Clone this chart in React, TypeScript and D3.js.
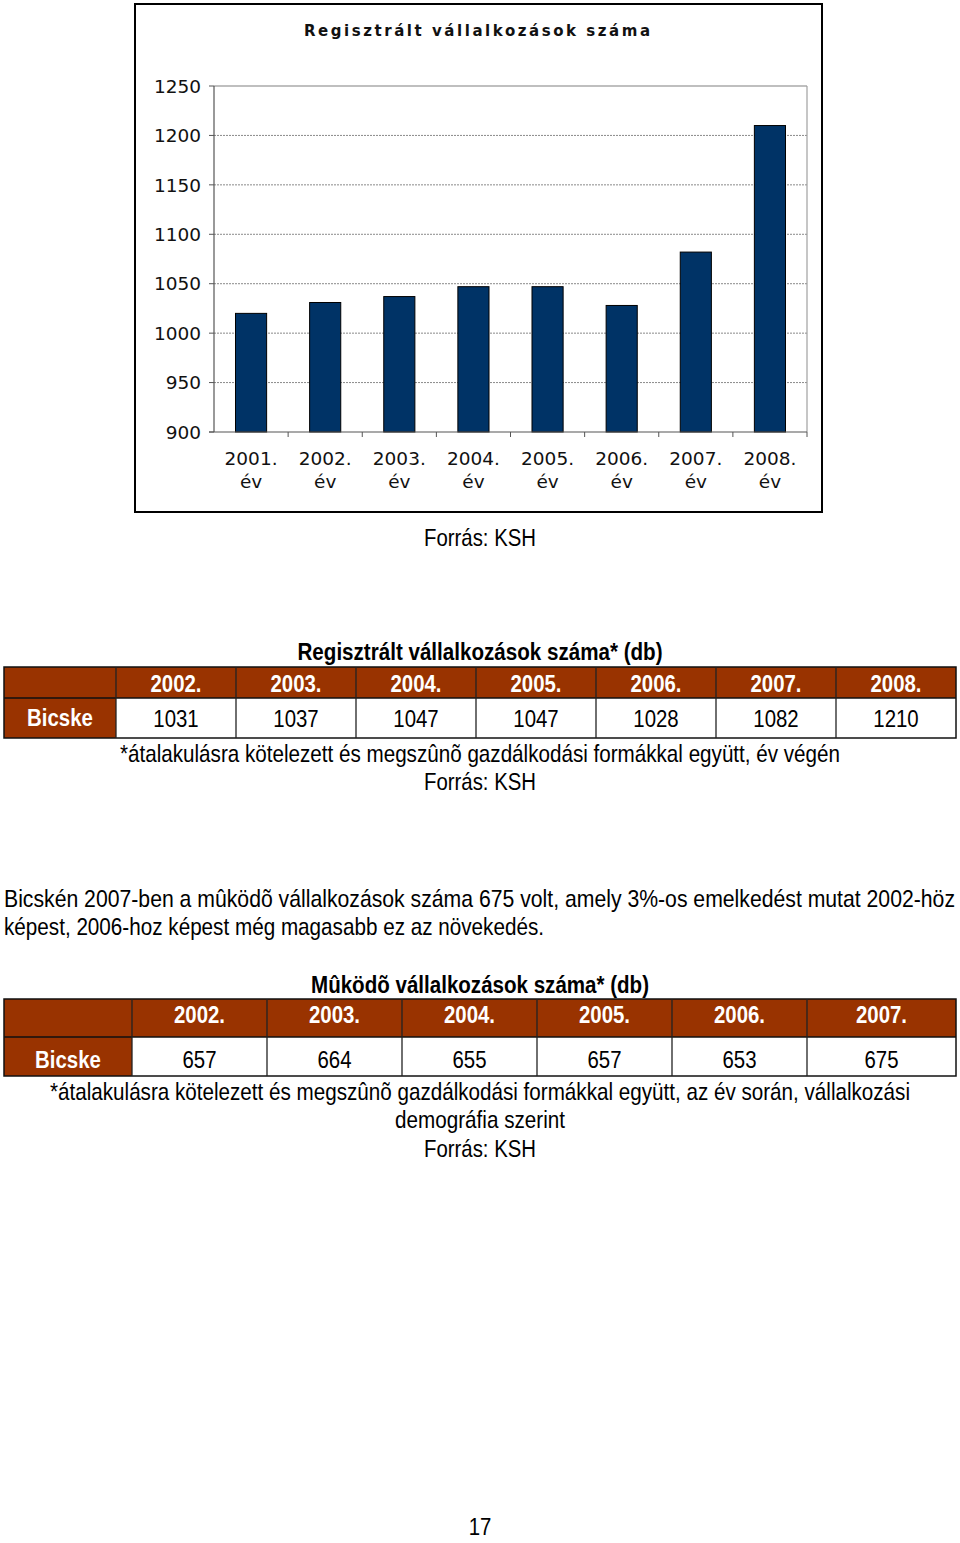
import React from "react";
import * as d3 from "d3";

// ---------- data ----------
const chartTitle = "Regisztrált vállalkozások száma";
const chartYears = ["2001.", "2002.", "2003.", "2004.", "2005.", "2006.", "2007.", "2008."];
const registered = [1020, 1031, 1037, 1047, 1047, 1028, 1082, 1210];
const yTicks = [900, 950, 1000, 1050, 1100, 1150, 1200, 1250];

const table1Title = "Regisztrált vállalkozások száma* (db)";
const table1Years = ["2002.", "2003.", "2004.", "2005.", "2006.", "2007.", "2008."];
const table1Values = [1031, 1037, 1047, 1047, 1028, 1082, 1210];
const table1Note = "*átalakulásra kötelezett és megszûnõ gazdálkodási formákkal együtt, év végén";

const paragraph = [
  "Bicskén 2007-ben a mûködõ vállalkozások száma 675 volt, amely 3%-os emelkedést mutat 2002-höz",
  "képest, 2006-hoz képest még magasabb ez az növekedés.",
];

const table2Title = "Mûködõ vállalkozások száma* (db)";
const table2Years = ["2002.", "2003.", "2004.", "2005.", "2006.", "2007."];
const table2Values = [657, 664, 655, 657, 653, 675];
const table2Note = [
  "*átalakulásra kötelezett és megszûnõ gazdálkodási formákkal együtt, az év során, vállalkozási",
  "demográfia szerint",
];

const rowLabel = "Bicske";
const source = "Forrás: KSH";
const pageNumber = "17";

// ---------- styles ----------
const SANS = "'Liberation Sans', Arial, Helvetica, sans-serif";
const VERD = "'DejaVu Sans', Verdana, sans-serif";
const BROWN = "#993300";
const NAVY = "#003366";
const SX = 0.85; // horizontal condensation for the narrow document font
const FS = 24;

function NText({
  x,
  y,
  children,
  anchor = "middle",
  bold = false,
  fill = "#000",
  width,
  adjust = "spacingAndGlyphs",
}: {
  x: number;
  y: number;
  children: React.ReactNode;
  anchor?: "start" | "middle" | "end";
  bold?: boolean;
  fill?: string;
  width?: number;
  adjust?: "spacing" | "spacingAndGlyphs";
}) {
  const extra: any = {};
  if (width) {
    extra.textLength = width / SX;
    extra.lengthAdjust = adjust;
  }
  return (
    <text
      transform={`translate(${x},${y}) scale(${SX},1)`}
      textAnchor={anchor}
      fontFamily={SANS}
      fontSize={FS}
      fontWeight={bold ? "bold" : "normal"}
      fill={fill}
      {...extra}
    >
      {children}
    </text>
  );
}

function Chart() {
  const box = { x: 135, y: 4, w: 687, h: 508 };
  const plot = { left: 214, right: 807, top: 86, bottom: 432 };
  const x = d3.scaleBand<string>().domain(chartYears).range([plot.left, plot.right]);
  const y = d3.scaleLinear().domain([900, 1250]).range([plot.bottom, plot.top]);
  const barW = x.bandwidth() * 0.42;
  return (
    <g>
      <rect x={box.x} y={box.y} width={box.w} height={box.h} fill="#fff" stroke="#000" strokeWidth={2} />
      <text
        x={477}
        y={36}
        textAnchor="middle"
        fontFamily={VERD}
        fontWeight="bold"
        fontSize={15}
        textLength={346}
        lengthAdjust="spacing"
        fill="#111"
      >
        {chartTitle}
      </text>
      {yTicks.slice(1, -1).map((t) => (
        <line key={t} x1={plot.left} x2={plot.right} y1={y(t)} y2={y(t)} stroke="#8a8a8a" strokeWidth={1} strokeDasharray="2,1" />
      ))}
      <line x1={plot.left} x2={plot.right} y1={y(1250)} y2={y(1250)} stroke="#808080" strokeWidth={1.2} />
      <line x1={plot.right} x2={plot.right} y1={plot.top} y2={plot.bottom} stroke="#a0a0a0" strokeWidth={1.2} />
      {registered.map((v, i) => {
        const cx = (x(chartYears[i]) as number) + x.bandwidth() / 2;
        return (
          <rect key={i} x={cx - barW / 2} y={y(v)} width={barW} height={plot.bottom - y(v)} fill={NAVY} stroke="#000" strokeWidth={1} />
        );
      })}
      <line x1={plot.left} x2={plot.left} y1={plot.top} y2={plot.bottom} stroke="#555" strokeWidth={1.2} />
      <line x1={plot.left - 5} x2={plot.right} y1={plot.bottom} y2={plot.bottom} stroke="#555" strokeWidth={1.2} />
      {yTicks.map((t) => (
        <g key={t}>
          <line x1={plot.left - 5} x2={plot.left} y1={y(t)} y2={y(t)} stroke="#555" strokeWidth={1} />
          <text x={201} y={y(t)} dy="0.36em" textAnchor="end" fontFamily={VERD} fontSize={18.5} fill="#111">
            {t}
          </text>
        </g>
      ))}
      {chartYears.map((c) => {
        const x0 = x(c) as number;
        const cx = x0 + x.bandwidth() / 2;
        return (
          <g key={c}>
            <line x1={x0 + x.bandwidth()} x2={x0 + x.bandwidth()} y1={plot.bottom} y2={plot.bottom + 5} stroke="#555" strokeWidth={1} />
            <text x={cx} y={465} textAnchor="middle" fontFamily={VERD} fontSize={18.5} fill="#111">
              {c}
            </text>
            <text x={cx} y={488} textAnchor="middle" fontFamily={VERD} fontSize={18.5} fill="#111">
              év
            </text>
          </g>
        );
      })}
    </g>
  );
}

function Table({
  years,
  values,
  edges,
  top,
  mid,
  bottom,
  headBase,
  dataBase,
  labelBase,
}: {
  years: string[];
  values: number[];
  edges: number[];
  top: number;
  mid: number;
  bottom: number;
  headBase: number;
  dataBase: number;
  labelBase: number;
}) {
  const left = edges[0];
  const right = edges[edges.length - 1];
  return (
    <g>
      <rect x={left} y={top} width={right - left} height={mid - top} fill={BROWN} />
      <rect x={left} y={mid} width={edges[1] - left} height={bottom - mid} fill={BROWN} />
      <rect x={edges[1]} y={mid} width={right - edges[1]} height={bottom - mid} fill="#fff" />
      <rect x={left} y={top} width={right - left} height={bottom - top} fill="none" stroke="#111" strokeWidth={1.5} />
      <line x1={left} x2={right} y1={mid} y2={mid} stroke="#111" strokeWidth={1.3} />
      {edges.slice(1, -1).map((e, i) => (
        <line key={i} x1={e} x2={e} y1={top} y2={bottom} stroke="#222" strokeWidth={1.3} />
      ))}
      {years.map((yr, i) => {
        const cx = (edges[i + 1] + edges[i + 2]) / 2;
        return (
          <g key={yr}>
            <NText x={cx} y={headBase} bold fill="#fff">
              {yr}
            </NText>
            <NText x={cx} y={dataBase}>{values[i]}</NText>
          </g>
        );
      })}
      <NText x={(edges[0] + edges[1]) / 2} y={labelBase} bold fill="#fff">
        {rowLabel}
      </NText>
    </g>
  );
}

export default function App() {
  const W = 960;
  const H = 1543;
  const t1 = d3.scaleBand<string>().domain(table1Years).range([116, 956]);
  const t1Edges = [4, ...table1Years.map((y) => t1(y) as number), 956];
  const t2 = d3.scaleBand<string>().domain(table2Years).range([132, 807 + 135]);
  const t2Edges = [4, ...table2Years.map((y) => t2(y) as number), 956];

  return (
    <div style={{ position: "absolute", left: 0, top: 0, width: W, height: H }}>
      <svg width={W} height={H} viewBox={`0 0 ${W} ${H}`} style={{ display: "block", background: "#fff" }}>
        <Chart />
        <NText x={480} y={546} width={112}>{source}</NText>
        <NText x={480} y={660} bold width={365}>{table1Title}</NText>
        <Table
          years={table1Years}
          values={table1Values}
          edges={t1Edges}
          top={667}
          mid={698}
          bottom={738}
          headBase={692}
          dataBase={727}
          labelBase={726}
        />
        <NText x={480} y={762} width={720}>{table1Note}</NText>
        <NText x={480} y={790} width={112}>{source}</NText>
        <NText x={4} y={907} anchor="start" width={951}>
          {paragraph[0]}
        </NText>
        <NText x={4} y={935} anchor="start" width={540}>
          {paragraph[1]}
        </NText>
        <NText x={480} y={993} bold width={338}>{table2Title}</NText>
        <Table
          years={table2Years}
          values={table2Values}
          edges={t2Edges}
          top={999}
          mid={1037}
          bottom={1076}
          headBase={1023}
          dataBase={1068}
          labelBase={1068}
        />
        <NText x={480} y={1100} width={860}>{table2Note[0]}</NText>
        <NText x={480} y={1128} width={170}>{table2Note[1]}</NText>
        <NText x={480} y={1157} width={112}>{source}</NText>
        <NText x={480} y={1535}>{pageNumber}</NText>
      </svg>
    </div>
  );
}
